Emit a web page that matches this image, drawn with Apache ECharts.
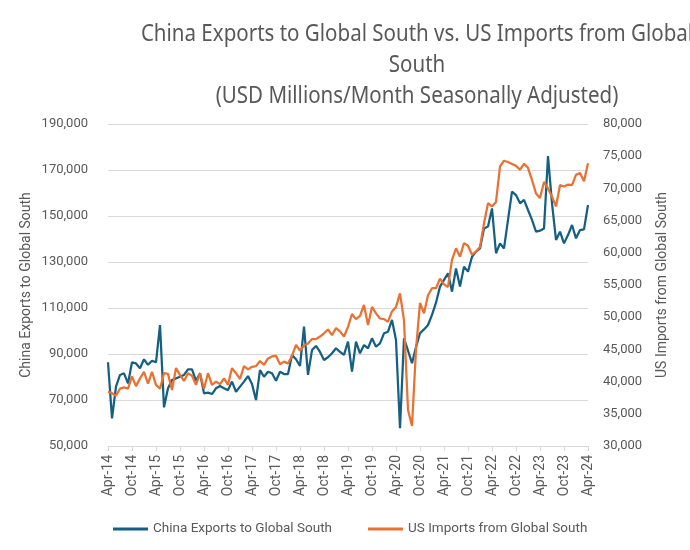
<!DOCTYPE html>
<html>
<head>
<meta charset="utf-8">
<script src="https://cdn.jsdelivr.net/npm/echarts@6/dist/echarts.min.js"></script>
<style>
html,body{margin:0;padding:0;background:#ffffff;}
#chart{width:690px;height:550px;}
</style>
</head>
<body>
<div id="chart"></div>
<script>
// ---- Data ----
const monthAbbr = ['Jan','Feb','Mar','Apr','May','Jun','Jul','Aug','Sep','Oct','Nov','Dec'];
const startMonthIndex = 3;   // April
const startYear = 14;        // 2014
const monthCount = 121;      // Apr-14 .. Apr-24

const categories = [];
for (let i = 0; i < monthCount; i++) {
  const m = (startMonthIndex + i) % 12;
  const y = startYear + Math.floor((startMonthIndex + i) / 12);
  categories.push(monthAbbr[m] + '-' + String(y).padStart(2, '0'));
}

const chinaExports = [
  86400, 62000, 75800, 80900, 81600, 77200, 86400, 85900, 83800, 87700,
  85300, 87100, 86400, 102600, 66800, 75100, 78700, 79400, 80100, 80900,
  83300, 83300, 78400, 81600, 72900, 73200, 72600, 75100, 76100, 75100,
  74300, 78000, 73600, 75800, 78000, 80400, 77000, 70000, 83000, 80100,
  82300, 81600, 78400, 82300, 81300, 81300, 89600, 87700, 84800, 101900,
  80900, 91700, 93500, 90900, 87400, 88600, 90300, 92500, 90900, 89600,
  95400, 82300, 95400, 90300, 93900, 92500, 96800, 93200, 94600, 99000,
  99700, 104800, 96100, 57700, 96800, 91500, 86000, 93000, 99000, 100700,
  102600, 107000, 112300, 119300, 122200, 125100, 117100, 127200, 119300, 128000,
  125800, 132300, 134500, 135900, 144600, 145400, 153300, 133800, 138100, 135900,
  148300, 160600, 159100, 155500, 157000, 152600, 148300, 143200, 143600, 144600,
  176100, 155500, 139600, 143200, 138100, 141700, 146100, 140300, 143900, 144200,
  154800
];

const usImports = [
  38400, 38200, 37800, 38900, 39100, 38900, 40800, 39300, 40500, 41500,
  39700, 41500, 39500, 38900, 41300, 41200, 38700, 42100, 41000, 40100,
  41300, 40900, 39500, 41300, 38900, 41300, 39500, 40000, 39600, 40500,
  39500, 42100, 41300, 40400, 42400, 41900, 42300, 42400, 43200, 42600,
  43600, 43900, 44000, 42700, 43100, 42800, 44000, 45700, 44800, 45600,
  45900, 46600, 46600, 47000, 47500, 48100, 47200, 48300, 47800, 47000,
  48500, 50500, 49700, 50200, 51900, 48800, 51600, 50600, 49800, 49700,
  49300, 50900, 51600, 53700, 49500, 35600, 33100, 45000, 52200, 50600,
  53400, 54500, 54500, 56000, 55100, 54700, 58900, 60700, 59400, 61500,
  61100, 59700, 60200, 60900, 64600, 67700, 67200, 67900, 73400, 74300,
  74100, 73800, 73500, 72900, 73800, 73200, 71300, 69200, 68500, 71000,
  70000, 68700, 67200, 70500, 70300, 70600, 70500, 72100, 72400, 71100,
  73900
];

const titleLines = [
  'China Exports to Global South vs. US Imports from Global',
  'South',
  '(USD Millions/Month Seasonally Adjusted)'
];
const seriesNames = ['China Exports to Global South', 'US Imports from Global South'];

// ---- Chart ----
const textColor = '#595959';
const gridColor = '#d9d9d9';
const baseFont = 'Roboto, "Noto Sans", sans-serif';
const titleFont = '"Noto Sans", Roboto, sans-serif';
const fmt = v => v.toLocaleString('en-US');

const chart = echarts.init(document.getElementById('chart'), null, {renderer: 'canvas'});
chart.setOption({
  animation: false,
  backgroundColor: '#ffffff',
  graphic: titleLines.map((t, i) => ({
    type: 'text',
    x: 417,
    y: 34 + i * 31,
    scaleX: 0.855,
    style: {
      text: t,
      align: 'center',
      verticalAlign: 'middle',
      fill: textColor,
      font: '24px ' + titleFont
    }
  })),
  grid: {left: 108, right: 102, top: 124, bottom: 104},
  legend: {
    data: seriesNames,
    left: 108,
    top: 517,
    icon: 'rect',
    itemWidth: 35,
    itemHeight: 3,
    itemGap: 36,
    textStyle: {color: textColor, fontSize: 13.5, fontFamily: baseFont}
  },
  xAxis: {
    type: 'category',
    data: categories,
    boundaryGap: false,
    axisLine: {lineStyle: {color: gridColor, width: 1}},
    axisTick: {show: true, interval: 5, length: 5, lineStyle: {color: gridColor}},
    axisLabel: {interval: 5, rotate: 90, color: textColor, fontSize: 14, fontFamily: baseFont, margin: 9},
    splitLine: {show: false}
  },
  yAxis: [
    {
      type: 'value',
      min: 50000, max: 190000, interval: 20000,
      axisLine: {show: false},
      axisTick: {show: false},
      axisLabel: {formatter: fmt, color: textColor, fontSize: 13, fontFamily: baseFont, margin: 20},
      splitLine: {show: true, lineStyle: {color: gridColor, width: 1}},
      name: seriesNames[0],
      nameLocation: 'middle',
      nameRotate: 90,
      nameGap: 75,
      nameMoveOverlap: false,
      nameTextStyle: {color: textColor, fontSize: 14, fontFamily: baseFont}
    },
    {
      type: 'value',
      min: 30000, max: 80000, interval: 5000,
      position: 'right',
      axisLine: {show: false},
      axisTick: {show: false},
      axisLabel: {formatter: fmt, color: textColor, fontSize: 13, fontFamily: baseFont, margin: 15},
      splitLine: {show: false},
      name: seriesNames[1],
      nameLocation: 'middle',
      nameRotate: 90,
      nameGap: 67,
      nameMoveOverlap: false,
      nameTextStyle: {color: textColor, fontSize: 14, fontFamily: baseFont}
    }
  ],
  series: [
    {
      name: seriesNames[0],
      type: 'line',
      yAxisIndex: 0,
      data: chinaExports,
      symbol: 'none',
      lineStyle: {color: '#156082', width: 2.25},
      itemStyle: {color: '#156082'}
    },
    {
      name: seriesNames[1],
      type: 'line',
      yAxisIndex: 1,
      data: usImports,
      symbol: 'none',
      lineStyle: {color: '#E97132', width: 2.25},
      itemStyle: {color: '#E97132'}
    }
  ]
});
</script>
</body>
</html>
